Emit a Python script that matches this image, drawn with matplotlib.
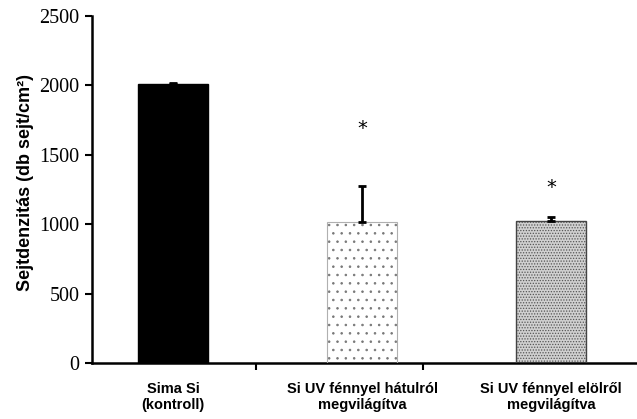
import matplotlib
matplotlib.use("Agg")
import matplotlib.pyplot as plt

categories = ["Sima Si\n(kontroll)", "Si UV fénnyel hátulról\nmegvilágítva", "Si UV fénnyel elölről\nmegvilágítva"]
values = [2010, 1016, 1023]
errors = [8, 260, 32]
star_y = [None, 1686, 1268]
yticks = [0, 500, 1000, 1500, 2000, 2500]

plt.rcParams['hatch.linewidth'] = 0.6
fig = plt.figure(figsize=(6.37, 4.19), dpi=100)
ax = fig.add_axes([92/637, 56/419, 545/637, 347/419])

x = [0, 1, 2]
w = 0.37
# bar 1 solid
ax.bar(x[0], values[0], width=w, color='black', edgecolor='black', zorder=2)
# bar 2 sparse speckle
ax.bar(x[1], values[1], width=w, color='white', edgecolor='#777777', hatch='..', linewidth=0, zorder=2)
ax.bar(x[1], values[1], width=w, fill=False, edgecolor='#b0b0b0', linewidth=0.8, zorder=3)
# bar 3 dense speckle
ax.bar(x[2], values[2], width=w, color='#d0d0d0', edgecolor='#555555', hatch='......', linewidth=0, zorder=2)
ax.bar(x[2], values[2], width=w, fill=False, edgecolor='#444444', linewidth=1.0, zorder=3)

for xi, v, e in zip(x, values, errors):
    ax.errorbar(xi, v, yerr=[[0], [e]], fmt='none', ecolor='black', elinewidth=2, capsize=3, capthick=2, zorder=4)

for xi, s in zip(x, star_y):
    if s is not None:
        ax.text(xi, s, "*", ha='center', va='center', fontsize=14, family='DejaVu Sans')

ax.set_xlim(-0.43, 2.455)
ax.set_ylim(0, 2500)
ax.set_yticks(yticks)
ax.set_yticklabels([str(t) for t in yticks], family='Liberation Serif', fontsize=14.5)
ax.set_xticks([0.44, 1.32])
ax.set_xticklabels([])
ax.tick_params(axis='x', direction='out', length=5, width=1.5)
ax.tick_params(axis='y', direction='out', length=5, width=1.5, pad=4)
for sp in ['top', 'right']:
    ax.spines[sp].set_visible(False)
for sp in ['left', 'bottom']:
    ax.spines[sp].set_linewidth(1.8)

for xi, lab in zip(x, categories):
    ax.text(xi, -0.055, lab, transform=ax.get_xaxis_transform(), ha='center', va='top',
            fontsize=10.5, family='Liberation Sans', fontweight='bold', linespacing=1.15)

ax.set_ylabel("Sejtdenzitás (db sejt/cm²)", family='Liberation Sans', fontweight='bold', fontsize=13, labelpad=4, y=0.52)

fig.savefig("out.png", dpi=100)
